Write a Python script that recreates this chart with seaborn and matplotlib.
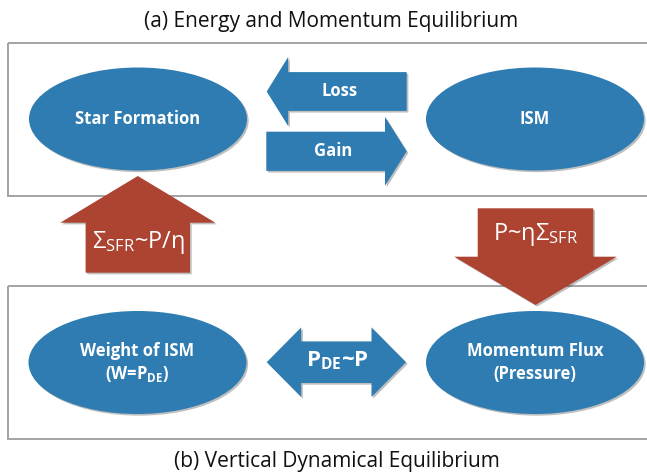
import numpy as np
import matplotlib.pyplot as plt
import matplotlib.patheffects as pe
from matplotlib.patches import Ellipse, Polygon, Rectangle
import seaborn as sns

# --- style ---
sns.set_theme(style="white")
plt.rcParams['font.family'] = ['Open Sans', 'DejaVu Sans']
plt.rcParams.update({
    'mathtext.fontset': 'custom',
    'mathtext.rm': 'Open Sans',
    'mathtext.bf': 'Open Sans:bold',
    'mathtext.it': 'Open Sans:italic',
})

BLUE = "#2e7cb1"
RED = "#ad4331"
EDGE = "#a3a3a3"
SHADOW = [pe.SimplePatchShadow(offset=(1.2, -1.2), shadow_rgbFace='k', alpha=0.28), pe.Normal()]

# --- diagram content ---
titles = ["(a) Energy and Momentum Equilibrium", "(b) Vertical Dynamical Equilibrium"]
node_labels = [["Star Formation"], ["ISM"],
               ["Weight of ISM", r"(W=$\mathbf{P_{DE}}$)"],
               ["Momentum Flux", "(Pressure)"]]
flow_labels = ["Loss", "Gain", r"$\mathbf{P_{DE}}$~P"]
coupling_labels = [r"$\mathrm{Σ_{SFR}}$~P/η", r"P~η$\mathrm{Σ_{SFR}}$"]

# --- layout (pixel coordinates, y down) ---
node_xy = [(138, 119), (535, 119), (137.5, 362.5), (535, 362.5)]
node_size = (218, 103)
panel_y = [(42.7, 195.7), (285.7, 439.3)]
title_xy = [(331, 21), (337, 462)]


def block_arrow(x0, x1, yc, shaft_half, head_half, head_len, vertical=False):
    """single-headed block arrow from x0 (tail) to x1 (tip) along one axis"""
    s = np.sign(x1 - x0)
    hb = x1 - s * head_len
    pts = [(x0, yc - shaft_half), (hb, yc - shaft_half), (hb, yc - head_half),
           (x1, yc), (hb, yc + head_half), (hb, yc + shaft_half), (x0, yc + shaft_half)]
    if vertical:
        pts = [(b, a) for a, b in pts]
    return pts


def double_arrow(x0, x1, yc, shaft_half, head_half, head_len):
    l, r = x0 + head_len, x1 - head_len
    return [(x0, yc), (l, yc - head_half), (l, yc - shaft_half), (r, yc - shaft_half),
            (r, yc - head_half), (x1, yc), (r, yc + head_half), (r, yc + shaft_half),
            (l, yc + shaft_half), (l, yc + head_half)]


fig = plt.figure(figsize=(6.47, 4.74), dpi=100)
ax = fig.add_axes([0, 0, 1, 1])
ax.set_xlim(0, 647)
ax.set_ylim(474, 0)
ax.axis('off')

# panels
for y0, y1 in panel_y:
    ax.add_patch(Rectangle((8, y0), 700, y1 - y0, fill=False, edgecolor=EDGE, lw=1.4, zorder=1))

# titles
for (tx, ty), t in zip(title_xy, titles):
    ax.text(tx, ty, t, ha='center', va='center', fontsize=15, color='#111111')

# ellipses
for (cx, cy), lines in zip(node_xy, node_labels):
    e = Ellipse((cx, cy), node_size[0], node_size[1], facecolor=BLUE, edgecolor='none', zorder=3)
    e.set_path_effects(SHADOW)
    ax.add_patch(e)
    n = len(lines)
    for i, line in enumerate(lines):
        dy = (i - (n - 1) / 2) * 22.5
        ax.text(cx, cy + dy, line, ha='center', va='center', fontsize=12,
                fontweight='bold', color='white', zorder=4)

# horizontal flows in panel (a) and panel (b)
flows = [block_arrow(406.7, 266.7, 91.5, 19.4, 34.6, 21.5),
         block_arrow(266.3, 406.7, 151.3, 19.6, 34.4, 21.7),
         double_arrow(266.7, 406.0, 362.2, 20.8, 34.8, 34.5)]
flow_text_xy = [(340, 91), (333, 151), (337, 361)]
flow_fs = [12, 12, 16]
for pts, lab, (tx, ty), fs in zip(flows, flow_labels, flow_text_xy, flow_fs):
    p = Polygon(pts, closed=True, facecolor=BLUE, edgecolor='none', zorder=3)
    p.set_path_effects(SHADOW)
    ax.add_patch(p)
    ax.text(tx, ty, lab, ha='center', va='center', fontsize=fs, fontweight='bold',
            color='white', zorder=4)

# vertical couplings between panels
couplings = [block_arrow(272.7, 176.0, 137.8, 52.2, 77.5, 46.7, vertical=True),
             block_arrow(208.3, 305.0, 535.5, 57.8, 81.3, 48.3, vertical=True)]
coupling_text_xy = [(138, 243), (536, 234)]
for pts, lab, (tx, ty) in zip(couplings, coupling_labels, coupling_text_xy):
    p = Polygon(pts, closed=True, facecolor=RED, edgecolor='none', zorder=2)
    p.set_path_effects(SHADOW)
    ax.add_patch(p)
    ax.text(tx, ty, lab, ha='center', va='center', fontsize=17, color='white', zorder=4)

fig.savefig('out.png', dpi=100)
